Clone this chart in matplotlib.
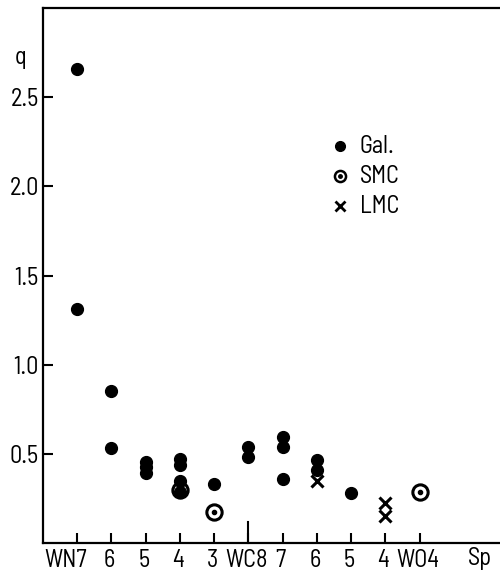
import numpy as np
import matplotlib.pyplot as plt
import matplotlib.transforms as mtransforms

plt.rcParams['font.family'] = ['Barlow Semi Condensed', 'Liberation Sans', 'DejaVu Sans']

# spectral type labels (positions 1..11)
types = ["WN7", "6", "5", "4", "3", "WC8", "7", "6", "5", "4", "WO4"]

# Galactic stars: (type index, q)
gal_x = [1, 1, 2, 2, 3, 3, 3, 4, 4, 4, 4, 5, 6, 6, 7, 7, 7, 8, 8, 9]
gal_q = [2.66, 1.31, 0.85, 0.535, 0.455, 0.425, 0.395, 0.47, 0.435, 0.35, 0.285,
         0.33, 0.54, 0.48, 0.595, 0.54, 0.36, 0.465, 0.41, 0.28]

# SMC stars
smc_x = [4, 5, 11]
smc_q = [0.30, 0.175, 0.285]

# LMC stars
lmc_x = [8, 10, 10]
lmc_q = [0.345, 0.225, 0.15]

FS = 17.5

fig = plt.figure(figsize=(5.0, 5.74), dpi=100)
ax = fig.add_axes([0.086, 0.054, 0.914, 0.932])

ax.plot(gal_x, gal_q, 'o', color='black', markersize=8.5, linestyle='none')
ax.plot(smc_x, smc_q, 'o', markerfacecolor='none', markeredgecolor='black',
        markeredgewidth=2.2, markersize=11, linestyle='none')
ax.plot(smc_x, smc_q, 'o', color='black', markersize=3, linestyle='none')
ax.plot(lmc_x, lmc_q, 'x', color='black', markeredgewidth=2.2, markersize=8.5,
        linestyle='none')

ax.set_xlim(0, 13.35)
ax.set_ylim(0, 3.0)

ax.spines['right'].set_visible(False)
for s in ['left', 'bottom', 'top']:
    ax.spines[s].set_linewidth(1.6)

ax.set_yticks([0.5, 1.0, 1.5, 2.0, 2.5])
ax.set_yticklabels(["0.5", "1.0", "1.5", "2.0", "2.5"])
ax.set_xticks(range(1, len(types) + 1))
ax.set_xticklabels(types)
ax.tick_params(axis='both', direction='in', length=7, width=1.5,
               labelsize=FS, colors='black')
ax.tick_params(axis='x', pad=4)
ax.tick_params(axis='y', pad=3)

# first label sits a bit left of its tick, the others slightly left too
for i, lab in enumerate(ax.get_xticklabels()):
    dx = -12 if i == 0 else -2
    off = mtransforms.ScaledTranslation(dx / 100, 0, fig.dpi_scale_trans)
    lab.set_transform(lab.get_transform() + off)

# longer tick at WC8 separating WN and WC/WO sequences
ax.plot([6, 6], [0, 0.115], color='black', linewidth=1.5, clip_on=False)

ax.text(12.75, -0.025, "Sp", fontsize=FS, ha='center', va='top')
ax.text(-0.65, 2.72, "q", fontsize=FS, ha='center', va='center')

# legend
lx, tx = 8.68, 9.26
ax.plot([lx], [2.225], 'o', color='black', markersize=7)
ax.plot([lx], [2.056], 'o', markerfacecolor='white', markeredgecolor='black',
        markeredgewidth=1.8, markersize=8)
ax.plot([lx], [2.056], 'o', color='black', markersize=2.5)
ax.plot([lx], [1.888], 'x', color='black', markeredgewidth=2, markersize=7)
ax.text(tx, 2.225, "Gal.", fontsize=FS, va='center')
ax.text(tx, 2.056, "SMC", fontsize=FS, va='center')
ax.text(tx, 1.888, "LMC", fontsize=FS, va='center')

fig.savefig("out.png", dpi=100)
